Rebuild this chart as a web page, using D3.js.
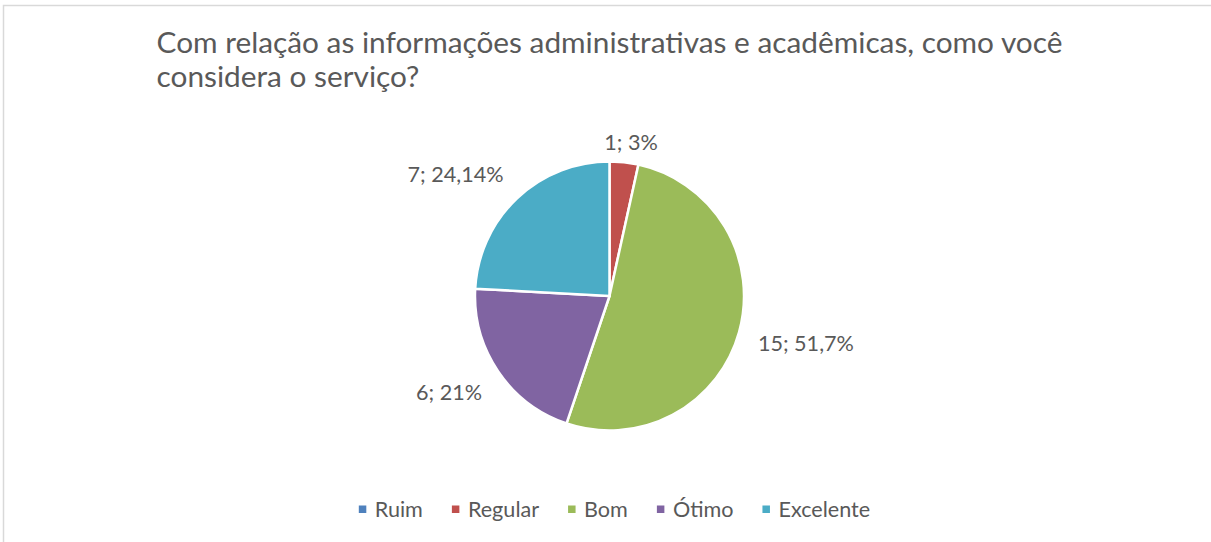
<!DOCTYPE html>
<html>
<head>
<meta charset="utf-8">
<script src="https://cdn.jsdelivr.net/npm/d3@7"></script>
<style>
  body { margin: 0; background: #fff; }
  svg { display: block; font-family: Lato, "Open Sans", sans-serif; }
</style>
</head>
<body>
<script>
var width = 1211
var height = 542

// chart data
var titleLines = ['Com relação as informações administrativas e acadêmicas, como você', 'considera o serviço?']
var categories = ['Ruim', 'Regular', 'Bom', 'Ótimo', 'Excelente']
var counts = [0, 1, 15, 6, 7]
var percentLabels = ['0%', '3%', '51,7%', '21%', '24,14%']
var colors = ['#4F81BD', '#C0504D', '#9BBB59', '#8064A2', '#4BACC6']

var cx = 609.5, cy = 296, radius = 134.5
var textColor = '#595959'

var svg = d3.select('body').append('svg')
    .attr('width', width)
    .attr('height', height)

// chart frame (continues past the right and bottom edges)
svg.append('rect')
    .attr('x', 3.5).attr('y', 5.5)
    .attr('width', width + 20).attr('height', height + 20)
    .attr('fill', '#fff')
    .attr('stroke', '#d9d9d9')
    .attr('stroke-width', 1.5)

// title, a left-aligned block centred on the chart
var title = svg.append('text')
    .attr('fill', textColor)
    .style('font-size', '29.8px')
title.selectAll('tspan')
    .data(titleLines)
    .enter().append('tspan')
    .attr('dy', (d, i) => i ? 34 : 0)
    .text(d => d)
var firstW = title.select('tspan').node().getComputedTextLength()
var tx = cx - firstW / 2
title.attr('y', 53).selectAll('tspan').attr('x', tx)

// pie
var pie = d3.pie().sort(null).value(d => d)
var arcs = pie(counts)
var arc = d3.arc().innerRadius(0).outerRadius(radius)

var g = svg.append('g').attr('transform', `translate(${cx},${cy})`)

g.selectAll('path')
    .data(arcs)
    .enter().append('path')
    .attr('d', arc)
    .attr('fill', (d, i) => colors[i])
    .attr('stroke', '#fff')
    .attr('stroke-width', 2.5)
    .attr('stroke-linejoin', 'round')

// data labels, outside end
var labelGap = 154
var clamp = v => Math.max(-1, Math.min(1, v))
var labels = g.selectAll('text.lbl')
    .data(arcs.filter(d => d.value > 0))
    .enter().append('text')
    .attr('class', 'lbl')
    .attr('fill', textColor)
    .style('font-size', '21.6px')
    .attr('text-anchor', 'middle')
    .attr('dominant-baseline', 'central')
    .text(d => d.value + '; ' + percentLabels[d.index])

labels.each(function(d) {
    var a = (d.startAngle + d.endAngle) / 2
    var sx = Math.sin(a), sy = -Math.cos(a)
    var w = this.getComputedTextLength(), h = 20
    // small slices near the top sit a bit closer, as in the original
    var gap = Math.abs(sx) < 0.2 ? labelGap - 9 : labelGap
    var px = sx * gap + clamp(sx * 2) * w / 2
    var py = sy * gap + clamp(sy * 2) * h / 2
    d3.select(this).attr('x', px).attr('y', py)
})

// legend
var legend = svg.append('g')
var lx = 0
var itemGap = 29
categories.forEach(function(c, i) {
    var item = legend.append('g').attr('transform', `translate(${lx},0)`)
    item.append('rect')
        .attr('x', 0).attr('y', -3.5)
        .attr('width', 7.5).attr('height', 7.5)
        .attr('fill', colors[i])
    var t = item.append('text')
        .attr('x', 16)
        .attr('dominant-baseline', 'central')
        .attr('fill', textColor)
        .style('font-size', '21.6px')
        .text(c)
    lx += 16 + t.node().getComputedTextLength() + itemGap
})
var legendW = lx - itemGap
legend.attr('transform', `translate(${cx - legendW / 2 + 5},509)`)
</script>
</body>
</html>
